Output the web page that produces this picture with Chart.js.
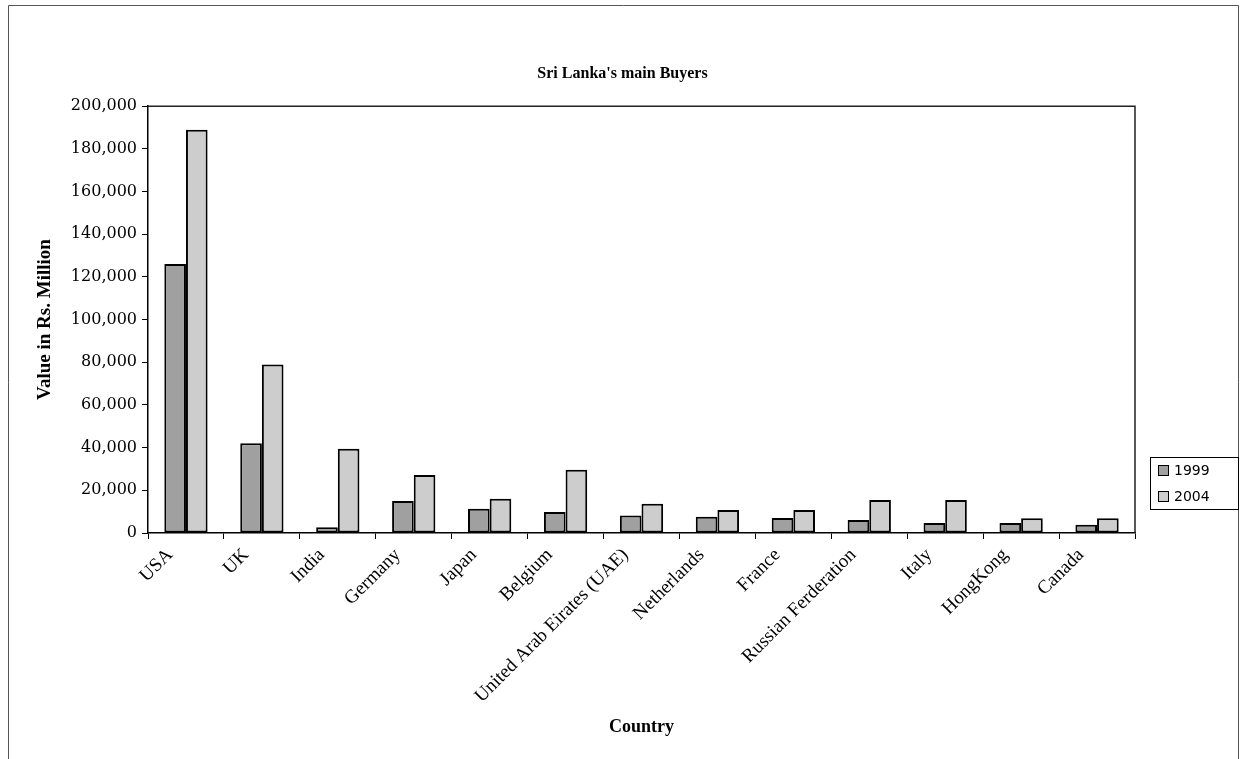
<!DOCTYPE html>
<html>
<head>
<meta charset="utf-8">
<script src="https://cdn.jsdelivr.net/npm/chart.js@4"></script>
<style>
  html,body{margin:0;padding:0;background:#fff;}
  #wrap{width:1245px;height:759px;}
</style>
</head>
<body>
<div id="wrap"><canvas id="chart" width="1245" height="759"></canvas></div>
<script>
// --- data ---
const countries=["USA","UK","India","Germany","Japan","Belgium","United Arab Eirates (UAE)",
  "Netherlands","France","Russian Ferderation","Italy","HongKong","Canada"];
const val1999=[126000,42000,2700,15000,11400,9800,8200,7600,7000,6100,4700,4700,3900];
const val2004=[189000,79000,39500,27200,16000,29600,13700,10800,10800,15500,15500,6900,6900];
const yTicks=[0,20000,40000,60000,80000,100000,120000,140000,160000,180000,200000];

const col1999="#a0a0a0", col2004="#cdcdcd";

// cadre extérieur + bord haut/droite de la zone de tracé + légende
const frame={
  id:'frame',
  beforeDraw(chart){
    const ctx=chart.ctx;
    ctx.save();
    ctx.strokeStyle="#555";
    ctx.lineWidth=1;
    ctx.beginPath();
    ctx.moveTo(8.5,759); ctx.lineTo(8.5,5.5); ctx.lineTo(1238.5,5.5); ctx.lineTo(1238.5,759);
    ctx.stroke();
    ctx.restore();
  },
  afterDraw(chart){
    const {ctx,chartArea:a}=chart;
    ctx.save();
    ctx.strokeStyle="#222";
    ctx.lineWidth=1.5;
    ctx.beginPath();
    ctx.moveTo(a.left,a.top); ctx.lineTo(a.right,a.top); ctx.lineTo(a.right,a.bottom);
    ctx.stroke();
    // légende
    const x=1150,y=457,w=88,h=52;
    ctx.fillStyle="#fff";
    ctx.fillRect(x,y,w,h);
    ctx.strokeStyle="#000";
    ctx.lineWidth=1;
    ctx.strokeRect(x+0.5,y+0.5,w,h);
    ctx.font="14px 'DejaVu Sans'";
    ctx.textBaseline="middle";
    chart.data.datasets.forEach((ds,i)=>{
      const yy=y+13+i*26;
      ctx.fillStyle=ds.backgroundColor;
      ctx.fillRect(x+8,yy-5,10,10);
      ctx.strokeRect(x+8.5,yy-4.5,10,10);
      ctx.fillStyle="#000";
      ctx.fillText(ds.label,x+24,yy+1);
    });
    ctx.restore();
  }
};

new Chart(document.getElementById("chart").getContext("2d"),{
  type:'bar',
  data:{
    labels:countries,
    datasets:[
      {label:"1999",data:val1999,backgroundColor:col1999,borderColor:"#000",borderWidth:2,borderSkipped:false},
      {label:"2004",data:val2004,backgroundColor:col2004,borderColor:"#000",borderWidth:2,borderSkipped:false}
    ]
  },
  options:{
    responsive:false,
    animation:false,
    layout:{padding:{left:22,right:22,top:0,bottom:18}},
    datasets:{bar:{categoryPercentage:0.57,barPercentage:1.0}},
    plugins:{
      legend:{display:false},
      tooltip:{enabled:false},
      title:{display:true,text:"Sri Lanka's main Buyers",color:"#000",
        font:{family:"'Liberation Serif'",size:16,weight:'bold'},padding:{top:64,bottom:23}}
    },
    scales:{
      x:{
        grid:{offset:true,drawOnChartArea:false,tickLength:6,color:"#000"},
        border:{display:true,color:"#000",width:1.5},
        ticks:{color:"#000",font:{family:"'Liberation Serif'",size:19},minRotation:45,maxRotation:45,
          padding:5,labelOffset:-16},
        title:{display:true,text:"Country",color:"#000",
          font:{family:"'Liberation Serif'",size:18,weight:'bold'},padding:{top:0,bottom:3}},
        afterFit(s){ s.height=208; }
      },
      y:{
        min:0,max:200000,
        afterBuildTicks(s){ s.ticks=yTicks.map(v=>({value:v})); },
        grid:{drawOnChartArea:false,tickLength:6,color:"#000"},
        border:{display:true,color:"#000",width:1.5},
        ticks:{color:"#000",font:{family:"'DejaVu Serif'",size:16},padding:5,
          callback:v=>v.toLocaleString('en-US')},
        title:{display:true,text:"Value in Rs. Million",color:"#000",
          font:{family:"'Liberation Serif'",size:19,weight:'bold'},padding:{top:12,bottom:0}},
        afterFit(s){ s.width=126; }
      },
      // axe vide à droite : réserve la place de la légende
      yRight:{
        position:'right',
        grid:{display:false},
        border:{display:false},
        ticks:{display:false},
        afterFit(s){ s.width=88; }
      }
    }
  },
  plugins:[frame]
});
</script>
</body>
</html>
